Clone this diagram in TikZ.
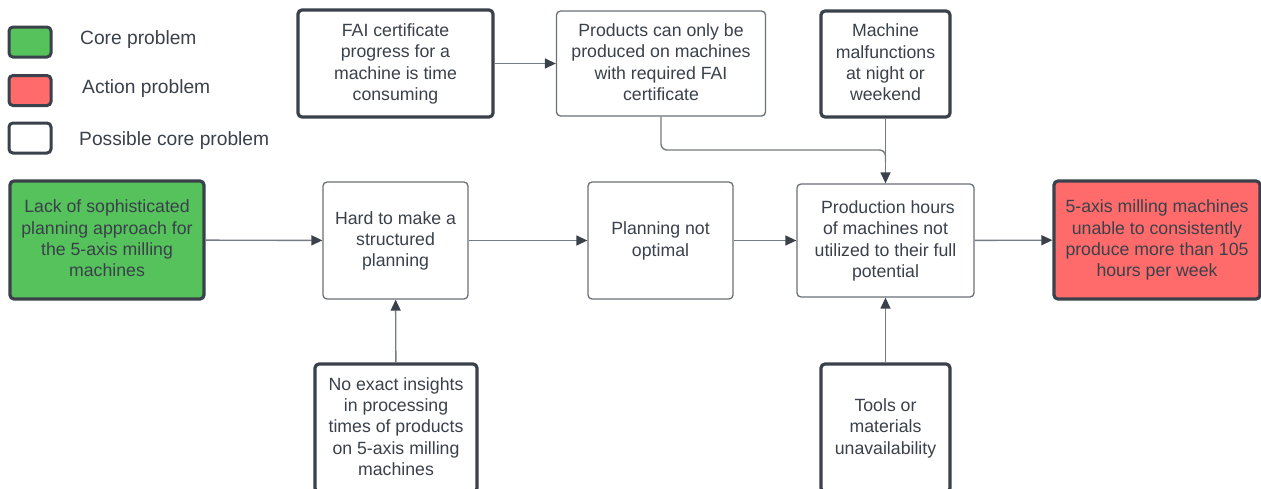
\documentclass[tikz,border=0pt]{standalone}
\usepackage{fontspec}
\setmainfont{Liberation Sans}
\usetikzlibrary{arrows.meta,calc}
\definecolor{ink}{HTML}{3A414A}
\definecolor{edge}{HTML}{6B7178}
\definecolor{wire}{HTML}{767C83}
\definecolor{coregreen}{HTML}{55C25C}
\definecolor{actionred}{HTML}{FF6B6B}
\tikzset{
  box/.style={rectangle, rounded corners=4pt, align=center, inner sep=0pt,
    text=ink, font=\fontsize{17.7}{21.3}\selectfont, text depth=3pt},
  thinbox/.style={box, draw=edge, line width=1.3pt},
  thickbox/.style={box, draw=ink, line width=3.2pt},
  legendbox/.style={rectangle, rounded corners=4pt, draw=ink, line width=3pt,
    minimum width=42pt, minimum height=30pt, inner sep=0pt},
  legendtext/.style={anchor=west, text=ink, inner sep=0pt,
    font=\fontsize{19.2}{23}\selectfont},
  link/.style={draw=wire, line width=1.4pt},
  arrow/.style={link, -{Triangle[length=11pt,width=10pt,fill=ink,color=ink]}},
}
\begin{document}
\begin{tikzpicture}[x=1pt,y=-1pt]
\useasboundingbox (0,0) rectangle (1261,488);
\clip (0,0) rectangle (1261,488);
\fill[white] (0,0) rectangle (1261,488);

% legend
\node[legendbox, fill=coregreen] (lg) at (30,42) {};
\node[legendbox, fill=actionred] (lr) at (30,90.5) {};
\node[legendbox, fill=white] (lw) at (30,138) {};
\node[legendtext] (tg) at (80,40) {Core problem};
\node[legendtext] (tr) at (82,89) {Action problem};
\node[legendtext] (tw) at (79,141) {Possible core problem};

% top row
\node[thickbox, minimum width=195pt, minimum height=107pt] (fai) at (395.5,63.5)
  {FAI certificate\\progress for a\\machine is time\\consuming};
\node[thinbox, minimum width=209pt, minimum height=105pt] (prod) at (661,63.5)
  {Products can only be\\produced on machines\\with required FAI\\certificate};
\node[thickbox, minimum width=129pt, minimum height=106pt] (mach) at (885.5,64)
  {Machine\\malfunctions\\at night or\\weekend};

% middle row
\node[thickbox, fill=coregreen, minimum width=194pt, minimum height=118pt] (lack) at (107,240)
  {Lack of sophisticated\\planning approach for\\the 5-axis milling\\machines};
\node[thinbox, minimum width=145pt, minimum height=117pt] (hard) at (395.5,240.5)
  {Hard to make a\\structured\\planning};
\node[thinbox, minimum width=145pt, minimum height=117pt] (plan) at (660.5,240.5)
  {Planning not\\optimal};
\node[thinbox, minimum width=177pt, minimum height=113pt] (hours) at (885.5,240.5)
  {\ Production hours\\of machines not\\utilized to their full\\potential};
\node[thickbox, fill=actionred, minimum width=206pt, minimum height=118pt] (unable) at (1157,240)
  {5-axis milling machines\\unable to consistently\\produce more than 105\\hours per week};

% bottom row (runs past the lower edge)
\node[thickbox, minimum width=162pt, minimum height=128pt] (insight) at (396,428)
  {No exact insights\\in processing\\times of products\\on 5-axis milling\\machines};
\node[thickbox, minimum width=129pt, minimum height=128pt] (tools) at (885.5,428)
  {Tools or\\materials\\unavailability};

% connectors
\coordinate (join) at (885.5,150);
\draw[arrow] (fai) -- (prod);
\draw[link, rounded corners=6pt] (prod.south) |- (join) -- ++(0,12);
\draw[arrow] (mach) -- (hours);
\draw[arrow] (lack) -- (hard);
\draw[arrow] (hard) -- (plan);
\draw[arrow] (plan) -- (hours);
\draw[arrow] (hours) -- (unable);
\draw[arrow] (insight) -- (hard);
\draw[arrow] (tools) -- (hours);
\end{tikzpicture}
\end{document}
